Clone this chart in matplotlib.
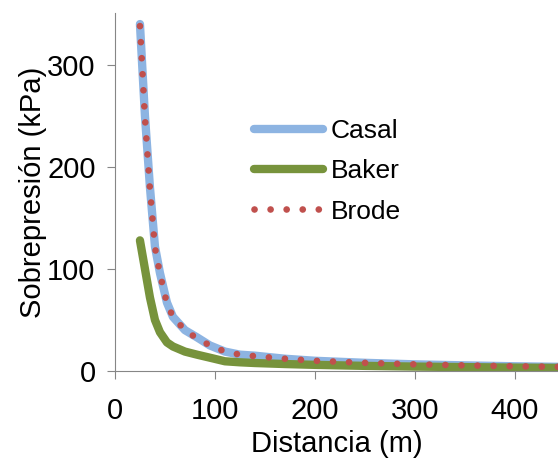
import numpy as np
import matplotlib.pyplot as plt

plt.rcParams['font.family'] = ['Liberation Sans', 'DejaVu Sans']

# distances (m) and overpressure (kPa)
dist = [25, 30, 35, 40, 45, 52, 58, 70, 82, 95, 110, 125, 140, 170, 200, 250, 300, 350, 400, 450, 500]
casal = [340, 250, 180, 122, 96, 67, 53, 40, 33, 25, 19, 16, 15, 12, 10, 8, 6.5, 5.5, 4.6, 4.0, 3.5]
brode = [338, 248, 178, 121, 95, 66, 53, 40, 32, 25, 19, 16, 14.5, 12, 10, 8, 6.5, 5.5, 4.6, 4.0, 3.5]
baker = [128, 100, 72, 50, 38, 28, 24, 19, 16, 13, 9.5, 8.5, 7.8, 6.8, 6, 5, 4.3, 3.8, 3.3, 3.0, 2.7]

fig = plt.figure(figsize=(5.58, 4.58), dpi=100)
ax = fig.add_axes([0.206, 0.19, 0.794, 0.782])

ax.plot(dist, casal, color='#8DB4E2', lw=6, solid_capstyle='round', label='Casal')
ax.plot(dist, baker, color='#77933C', lw=6, solid_capstyle='round', label='Baker')
ax.plot(dist, brode, color='#C0504D', lw=4.8, linestyle=(0, (0.01, 2.4)),
        dash_capstyle='round', label='Brode')

ax.set_xlim(0, 443)
ax.set_ylim(0, 351)
ax.set_xticks([0, 100, 200, 300, 400])
ax.set_yticks([0, 100, 200, 300])

for s in ['top', 'right']:
    ax.spines[s].set_visible(False)
for s in ['left', 'bottom']:
    ax.spines[s].set_color('#868686')
ax.tick_params(direction='out', length=6, color='#868686', labelsize=21)
ax.tick_params(axis='x', pad=13)
ax.tick_params(axis='y', pad=8)

ax.set_xlabel('Distancia (m)', fontsize=21, labelpad=3)
ax.set_ylabel('Sobrepresión (kPa)', fontsize=21, labelpad=0)

ax.legend(loc='upper left', bbox_to_anchor=(0.26, 0.77), frameon=False,
          fontsize=19, handlelength=2.6, handletextpad=0.3, labelspacing=0.62)

fig.savefig('out.png', dpi=100)
